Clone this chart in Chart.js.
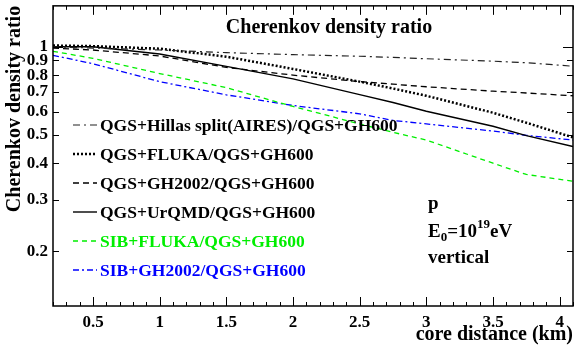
<!DOCTYPE html>
<html>
<head>
<meta charset="utf-8">
<script src="https://cdn.jsdelivr.net/npm/chart.js@4.4.1/dist/chart.umd.min.js"></script>
<style>
  body { margin: 0; background: #fff; }
  canvas { display: block; }
</style>
</head>
<body>
<canvas id="chart" width="574" height="347"></canvas>
<script>
// core distance (km), common to all curves
const distances = [0.2, 0.5, 1.0, 1.5, 2.0, 2.5, 2.75, 3.0, 3.5, 3.75, 4.1];

// density ratio to QGS+GH600
const qgsHillas = [1.0, 0.99, 0.975, 0.955, 0.94, 0.928, 0.92, 0.91, 0.893, 0.882, 0.858];
const qgsFluka = [1.01, 1.005, 0.985, 0.925, 0.84, 0.76, 0.72, 0.68, 0.595, 0.55, 0.49];
const qgsGh2002 = [0.99, 0.975, 0.93, 0.85, 0.8, 0.76, 0.745, 0.73, 0.705, 0.695, 0.68];
const qgsUrqmd = [1.0, 1.0, 0.945, 0.857, 0.777, 0.686, 0.645, 0.602, 0.535, 0.497, 0.456];
const sibFluka = [0.965, 0.913, 0.81, 0.725, 0.625, 0.545, 0.51, 0.48, 0.40, 0.366, 0.347];
const sibGh2002 = [0.935, 0.875, 0.76, 0.685, 0.63, 0.59, 0.56, 0.545, 0.515, 0.498, 0.48];

const seriesLabels = [
    'QGS+Hillas split(AIRES)/QGS+GH600',
    'QGS+FLUKA/QGS+GH600',
    'QGS+GH2002/QGS+GH600',
    'QGS+UrQMD/QGS+GH600',
    'SIB+FLUKA/QGS+GH600',
    'SIB+GH2002/QGS+GH600'
];

const xTickValues = [0.5, 1, 1.5, 2, 2.5, 3, 3.5, 4];
const yTickValues = [0.2, 0.3, 0.4, 0.5, 0.6, 0.7, 0.8, 0.9, 1];

const FONT = "'Liberation Serif', 'Times New Roman', serif";

const toPoints = vals => vals.map((v, i) => ({ x: distances[i], y: v }));

const styles = [
    { color: '#222222', dash: [7, 4, 2, 4], width: 1.2, text: '#000000' },
    { color: '#000000', dash: [2, 2], width: 2.5, text: '#000000' },
    { color: '#000000', dash: [6, 4], width: 1.3, text: '#000000' },
    { color: '#000000', dash: [], width: 1.4, text: '#000000' },
    { color: '#00ee00', dash: [5, 4], width: 1.3, text: '#00ee00' },
    { color: '#0000ff', dash: [6, 3, 2, 3], width: 1.3, text: '#0000ff' }
];

const seriesValues = [qgsHillas, qgsFluka, qgsGh2002, qgsUrqmd, sibFluka, sibGh2002];

const datasets = seriesValues.map((vals, i) => ({
    label: seriesLabels[i],
    data: toPoints(vals),
    borderColor: styles[i].color,
    borderDash: styles[i].dash,
    borderWidth: styles[i].width,
    pointRadius: 0,
    showLine: true,
    tension: 0,
    fill: false
}));

const decorPlugin = {
    id: 'decor',
    afterDraw(chart) {
        const ctx = chart.ctx;
        const a = chart.chartArea;
        const xs = chart.scales.x;
        const ys = chart.scales.y;
        ctx.save();
        ctx.strokeStyle = '#000';
        ctx.lineWidth = 1.5;
        ctx.setLineDash([]);
        ctx.strokeRect(a.left, a.top, a.right - a.left, a.bottom - a.top);

        // x ticks, inward on top and bottom
        ctx.lineWidth = 1;
        for (let k = 2; k <= 41; k++) {
            const v = k / 10;
            const px = Math.round(xs.getPixelForValue(v)) + 0.5;
            const len = (k % 5 === 0) ? 9 : 4;
            ctx.beginPath();
            ctx.moveTo(px, a.bottom); ctx.lineTo(px, a.bottom - len);
            ctx.moveTo(px, a.top); ctx.lineTo(px, a.top + len);
            ctx.stroke();
        }
        // y ticks, inward on left and right
        yTickValues.forEach(v => {
            const py = Math.round(ys.getPixelForValue(v)) + 0.5;
            const len = v === 1 ? 10 : 6;
            ctx.beginPath();
            ctx.moveTo(a.left, py); ctx.lineTo(a.left + len, py);
            ctx.moveTo(a.right, py); ctx.lineTo(a.right - len, py);
            ctx.stroke();
        });

        // titles
        ctx.fillStyle = '#000';
        ctx.font = 'bold 20px ' + FONT;
        ctx.textAlign = 'center';
        ctx.textBaseline = 'middle';
        ctx.fillText('Cherenkov density ratio', 329, 28);

        ctx.save();
        ctx.translate(15, 109);
        ctx.rotate(-Math.PI / 2);
        ctx.fillText('Cherenkov density ratio', 0, 0);
        ctx.restore();

        ctx.textAlign = 'right';
        ctx.fillText('core distance (km)', 573, 335);

        // legend
        ctx.font = 'bold 17.5px ' + FONT;
        ctx.textAlign = 'left';
        chart.data.datasets.forEach((ds, i) => {
            const y = 125 + i * 29;
            ctx.strokeStyle = ds.borderColor;
            ctx.lineWidth = ds.borderWidth;
            ctx.setLineDash(ds.borderDash);
            ctx.beginPath();
            ctx.moveTo(73, y); ctx.lineTo(97, y);
            ctx.stroke();
            ctx.setLineDash([]);
            ctx.fillStyle = styles[i].text;
            ctx.fillText(ds.label, 100, y + 1);
        });

        // annotation
        ctx.fillStyle = '#000';
        ctx.font = 'bold 19px ' + FONT;
        ctx.fillText('p', 428, 204);
        let x = 428;
        ctx.fillText('E', x, 232); x += ctx.measureText('E').width;
        ctx.font = 'bold 13px ' + FONT;
        ctx.fillText('0', x, 238); x += ctx.measureText('0').width;
        ctx.font = 'bold 19px ' + FONT;
        ctx.fillText('=10', x, 232); x += ctx.measureText('=10').width;
        ctx.font = 'bold 13px ' + FONT;
        ctx.fillText('19', x, 225); x += ctx.measureText('19').width;
        ctx.font = 'bold 19px ' + FONT;
        ctx.fillText('eV', x, 232);
        ctx.fillText('vertical', 428, 258);
        ctx.restore();
    }
};

new Chart(document.getElementById('chart'), {
    type: 'scatter',
    data: { datasets: datasets },
    options: {
        responsive: false,
        animation: false,
        layout: { padding: { left: 0, right: 1, top: 5, bottom: 0 } },
        plugins: {
            legend: { display: false },
            tooltip: { enabled: false }
        },
        scales: {
            x: {
                type: 'linear',
                min: 0.2,
                max: 4.1,
                afterBuildTicks: scale => { scale.ticks = xTickValues.map(v => ({ value: v })); },
                afterFit: scale => { scale.height = 41; },
                grid: { display: false, drawTicks: false },
                border: { display: false },
                ticks: {
                    color: '#000',
                    padding: 6,
                    maxRotation: 0,
                    font: { family: FONT, size: 17, weight: 'bold' },
                    callback: v => String(v)
                }
            },
            y: {
                type: 'logarithmic',
                min: 0.13,
                max: 1.38,
                afterBuildTicks: scale => { scale.ticks = yTickValues.map(v => ({ value: v })); },
                afterFit: scale => { scale.width = 53; },
                grid: { display: false, drawTicks: false },
                border: { display: false },
                ticks: {
                    color: '#000',
                    padding: 5,
                    font: { family: FONT, size: 17, weight: 'bold', lineHeight: 0.1 },
                    callback: v => String(v)
                }
            }
        }
    },
    plugins: [decorPlugin]
});
</script>
</body>
</html>
